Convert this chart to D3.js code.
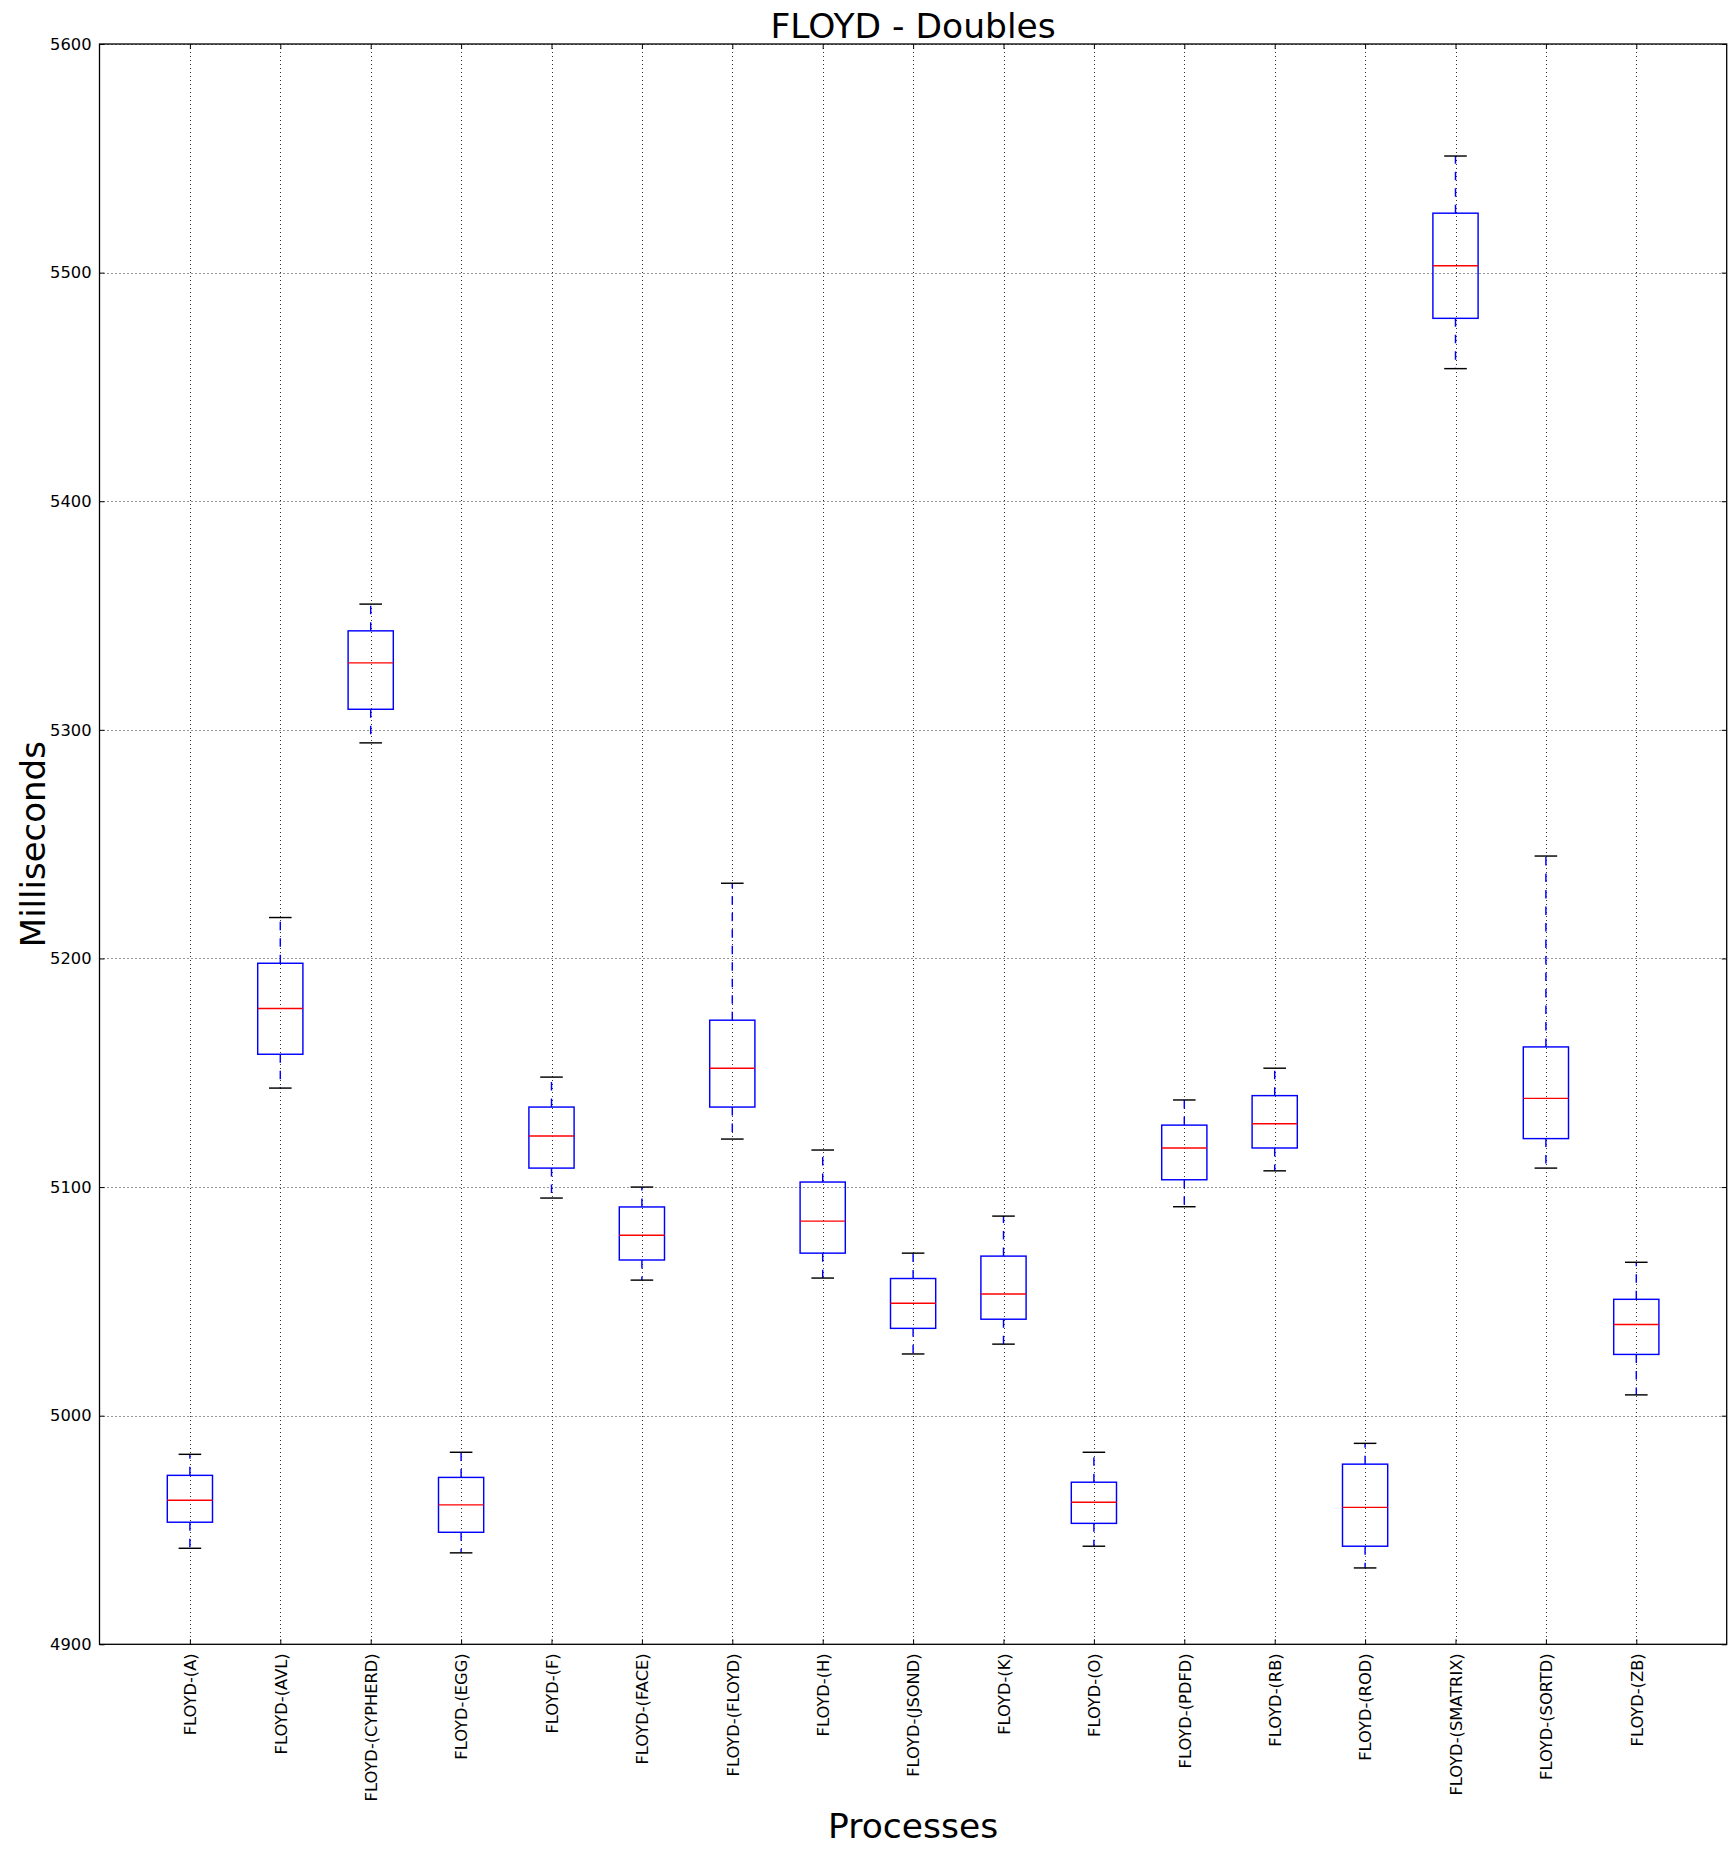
<!DOCTYPE html>
<html>
<head>
<meta charset="utf-8">
<script src="https://cdn.jsdelivr.net/npm/d3@7"></script>
<style>
  html, body { margin: 0; padding: 0; background: #fff; }
  text { font-family: "DejaVu Sans", sans-serif; }
</style>
</head>
<body>
<svg id="chart" width="1736" height="1853"></svg>
<script>
const categories = ["FLOYD-(A)","FLOYD-(AVL)","FLOYD-(CYPHERD)","FLOYD-(EGG)","FLOYD-(F)","FLOYD-(FACE)","FLOYD-(FLOYD)","FLOYD-(H)","FLOYD-(JSOND)","FLOYD-(K)","FLOYD-(O)","FLOYD-(PDFD)","FLOYD-(RB)","FLOYD-(ROD)","FLOYD-(SMATRIX)","FLOYD-(SORTD)","FLOYD-(ZB)"];
const whiskerLow  = [4942, 5143.3, 5294.3, 4940, 5095.2, 5059.3, 5121, 5060.2, 5027, 5031.3, 4942.9, 5091.4, 5107.1, 4933.4, 5458, 5108.3, 5009.1];
const q1          = [4953.4, 5158.1, 5309, 4949, 5108.3, 5068.1, 5135, 5071.1, 5038.2, 5042.2, 4952.9, 5103.2, 5117.1, 4942.9, 5480, 5121.2, 5026.8];
const medians     = [4963, 5178.1, 5329.3, 4961, 5122.3, 5078.9, 5152, 5085.1, 5049.2, 5053.2, 4962.1, 5117.1, 5127.7, 4959.9, 5503, 5138.8, 5039.9];
const q3          = [4973.9, 5197.9, 5343.3, 4973, 5135, 5091.3, 5173, 5102.2, 5060, 5069.8, 4970.9, 5127.1, 5140, 4978.8, 5526, 5161.3, 5050.9];
const whiskerHigh = [4983.1, 5217.9, 5355, 4984, 5148.1, 5100, 5232.9, 5116.2, 5071.1, 5087.3, 4984, 5138.1, 5152, 4987.9, 5551, 5244.8, 5067.1];
const yTicks = [4900, 5000, 5100, 5200, 5300, 5400, 5500, 5600];
const titleText = "FLOYD - Doubles";
const xLabel = "Processes";
const yLabel = "Milliseconds";

const W = 1736, H = 1853;
const L = 99.5, R = 1726.7, T = 44, B = 1644.3;

const svg = d3.select("#chart");
svg.append("rect").attr("width", W).attr("height", H).attr("fill", "#fff");

const x = d3.scaleLinear().domain([0, categories.length + 1]).range([L, R]);
const y = d3.scaleLinear().domain([4900, 5600]).range([B, T]);
const pos = categories.map((c, i) => i + 1);

// grid
const grid = svg.append("g").attr("stroke", "#000").attr("stroke-width", 0.9)
  .attr("stroke-dasharray", "1,3").attr("fill", "none").attr("opacity", 0.9);
grid.selectAll(".gx").data(pos).join("line")
  .attr("x1", d => Math.round(x(d)) + 0.5).attr("x2", d => Math.round(x(d)) + 0.5)
  .attr("y1", T).attr("y2", B);
grid.selectAll(".gy").data(yTicks).join("line")
  .attr("x1", L).attr("x2", R)
  .attr("y1", d => Math.round(y(d)) + 0.5).attr("y2", d => Math.round(y(d)) + 0.5);

// boxes
const unit = x(1) - x(0);
const bw = unit * 0.5, cw = unit * 0.25;
const g = svg.append("g");
categories.forEach((c, i) => {
  const cx = x(pos[i]);
  g.append("line").attr("x1", cx).attr("x2", cx).attr("y1", y(q3[i])).attr("y2", y(whiskerHigh[i]))
    .attr("stroke", "#0000ff").attr("stroke-width", 1.44).attr("stroke-dasharray", "8.5,8");
  g.append("line").attr("x1", cx).attr("x2", cx).attr("y1", y(q1[i])).attr("y2", y(whiskerLow[i]))
    .attr("stroke", "#0000ff").attr("stroke-width", 1.44).attr("stroke-dasharray", "8.5,8");
  [whiskerHigh[i], whiskerLow[i]].forEach(v => {
    g.append("line").attr("x1", cx - cw / 2).attr("x2", cx + cw / 2).attr("y1", y(v)).attr("y2", y(v))
      .attr("stroke", "#000").attr("stroke-width", 1.44);
  });
  g.append("rect").attr("x", cx - bw / 2).attr("width", bw)
    .attr("y", y(q3[i])).attr("height", y(q1[i]) - y(q3[i]))
    .attr("fill", "none").attr("stroke", "#0000ff").attr("stroke-width", 1.44);
  g.append("line").attr("x1", cx - bw / 2).attr("x2", cx + bw / 2).attr("y1", y(medians[i])).attr("y2", y(medians[i]))
    .attr("stroke", "#ff0000").attr("stroke-width", 1.44);
});

// axes
const fs = 16.3;
const ax = svg.append("g").attr("transform", `translate(${L},0)`)
  .call(d3.axisLeft(y).tickValues(yTicks).tickFormat(d3.format("d")).tickSizeInner(-5).tickSizeOuter(0).tickPadding(8));
ax.select(".domain").remove();
ax.selectAll("text").attr("font-size", fs).attr("fill", "#000").attr("font-family", "DejaVu Sans");
ax.selectAll("line").attr("stroke", "#000").attr("stroke-width", 1);

const axr = svg.append("g").attr("transform", `translate(${R},0)`)
  .call(d3.axisRight(y).tickValues(yTicks).tickFormat("").tickSizeInner(-5).tickSizeOuter(0));
axr.select(".domain").remove();
axr.selectAll("line").attr("stroke", "#000");

const axb = svg.append("g").attr("transform", `translate(0,${B})`)
  .call(d3.axisBottom(x).tickValues(pos).tickFormat(d => categories[d - 1]).tickSizeInner(-5).tickSizeOuter(0));
axb.select(".domain").remove();
axb.selectAll("line").attr("stroke", "#000");
axb.selectAll("text")
  .attr("font-size", fs).attr("fill", "#000").attr("font-family", "DejaVu Sans")
  .attr("transform", "rotate(-90)")
  .attr("text-anchor", "end")
  .attr("x", -9).attr("y", 0).attr("dy", "0.35em");

const axt = svg.append("g").attr("transform", `translate(0,${T})`)
  .call(d3.axisTop(x).tickValues(pos).tickFormat("").tickSizeInner(-5).tickSizeOuter(0));
axt.select(".domain").remove();
axt.selectAll("line").attr("stroke", "#000");

// frame
svg.append("rect").attr("x", L).attr("y", T).attr("width", R - L).attr("height", B - T)
  .attr("fill", "none").attr("stroke", "#000").attr("stroke-width", 1.3);

// titles
svg.append("text").attr("x", (L + R) / 2).attr("y", 38).attr("text-anchor", "middle")
  .attr("font-size", 34.5).attr("fill", "#000").text(titleText);
svg.append("text").attr("x", (L + R) / 2).attr("y", 1838).attr("text-anchor", "middle")
  .attr("font-size", 34.5).attr("fill", "#000").text(xLabel);
svg.append("text").attr("transform", `translate(45,${(T + B) / 2}) rotate(-90)`).attr("text-anchor", "middle")
  .attr("font-size", 34).attr("fill", "#000").text(yLabel);
</script>
</body>
</html>
